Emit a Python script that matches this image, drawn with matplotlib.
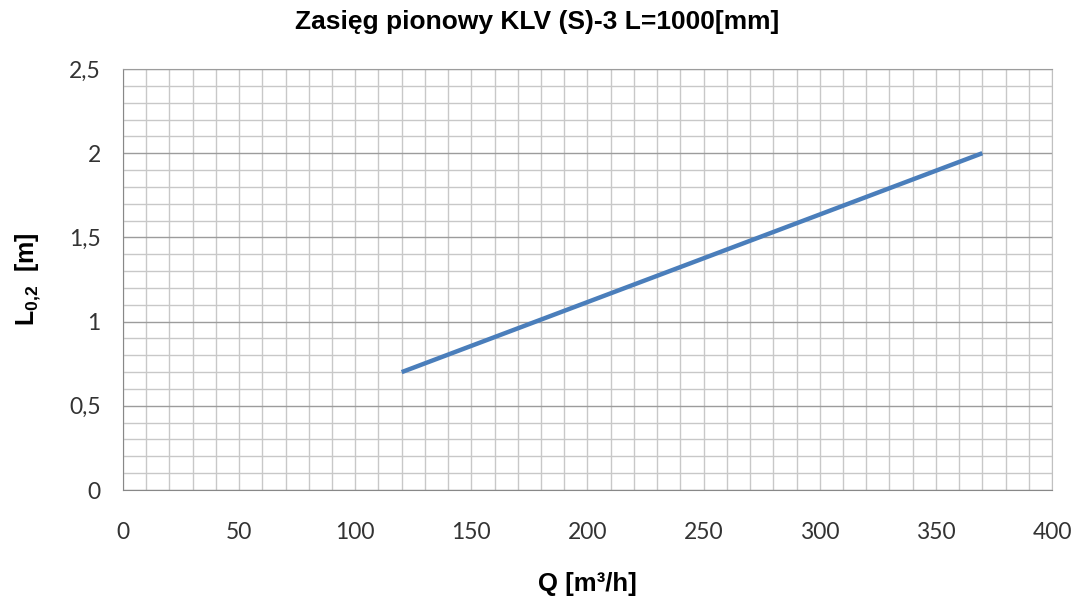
import numpy as np
import matplotlib
matplotlib.use("Agg")
import matplotlib.pyplot as plt
from matplotlib.ticker import MultipleLocator, FuncFormatter

plt.rcParams['font.family'] = ['Liberation Sans', 'DejaVu Sans']
plt.rcParams['mathtext.fontset'] = 'custom'
plt.rcParams['mathtext.rm'] = 'Liberation Sans'
plt.rcParams['mathtext.bf'] = 'Liberation Sans:bold'

# Data
q = [120, 370]          # Q [m3/h]
l02 = [0.7, 2.0]        # L0,2 [m]

title = "Zasięg pionowy KLV (S)-3 L=1000[mm]"

fig = plt.figure(figsize=(10.75, 5.98), dpi=100)
ax = fig.add_axes([0.1144, 0.1806, 0.8642, 0.704])

ax.plot(q, l02, color="#4a7ebb", linewidth=3.2, solid_capstyle="butt", zorder=3)

ax.set_xlim(0, 400)
ax.set_ylim(0, 2.5)
ax.xaxis.set_major_locator(MultipleLocator(50))
ax.xaxis.set_minor_locator(MultipleLocator(10))
ax.yaxis.set_major_locator(MultipleLocator(0.5))
ax.yaxis.set_minor_locator(MultipleLocator(0.1))

# vertical lines all light, horizontal major ones darker
ax.grid(which="both", axis="x", color="#c8c8c8", linewidth=1)
ax.grid(which="minor", axis="y", color="#c8c8c8", linewidth=1)
ax.grid(which="major", axis="y", color="#9c9c9c", linewidth=1)
ax.set_axisbelow(True)

ax.spines["top"].set_color("#9c9c9c")
ax.spines["right"].set_color("#c0c0c0")
for side in ["left", "bottom"]:
    ax.spines[side].set_color("#888888")

ax.tick_params(which="both", length=0)
ax.tick_params(axis="x", pad=23, labelsize=16.5)
ax.tick_params(axis="y", pad=16, labelsize=16.5)
for lab in ax.get_xticklabels() + ax.get_yticklabels():
    lab.set_fontfamily(['Lato', 'DejaVu Sans'])
    lab.set_color("#333333")
ax.yaxis.set_major_formatter(FuncFormatter(lambda v, p: ("%g" % v).replace(".", ",")))

# title is centred on the whole figure, not the axes
fig.text(0.5, 1 - 22 / 598, title, fontsize=19, fontweight="bold",
         ha="center", va="center")
ax.set_xlabel("Q [m³/h]", fontsize=18.5, fontweight="bold", labelpad=21)
ax.set_ylabel(r"L$_{\mathbf{0{,}2}}$  [m]", fontsize=18, fontweight="bold", labelpad=19)

fig.savefig("out.png", dpi=100, facecolor="white")
